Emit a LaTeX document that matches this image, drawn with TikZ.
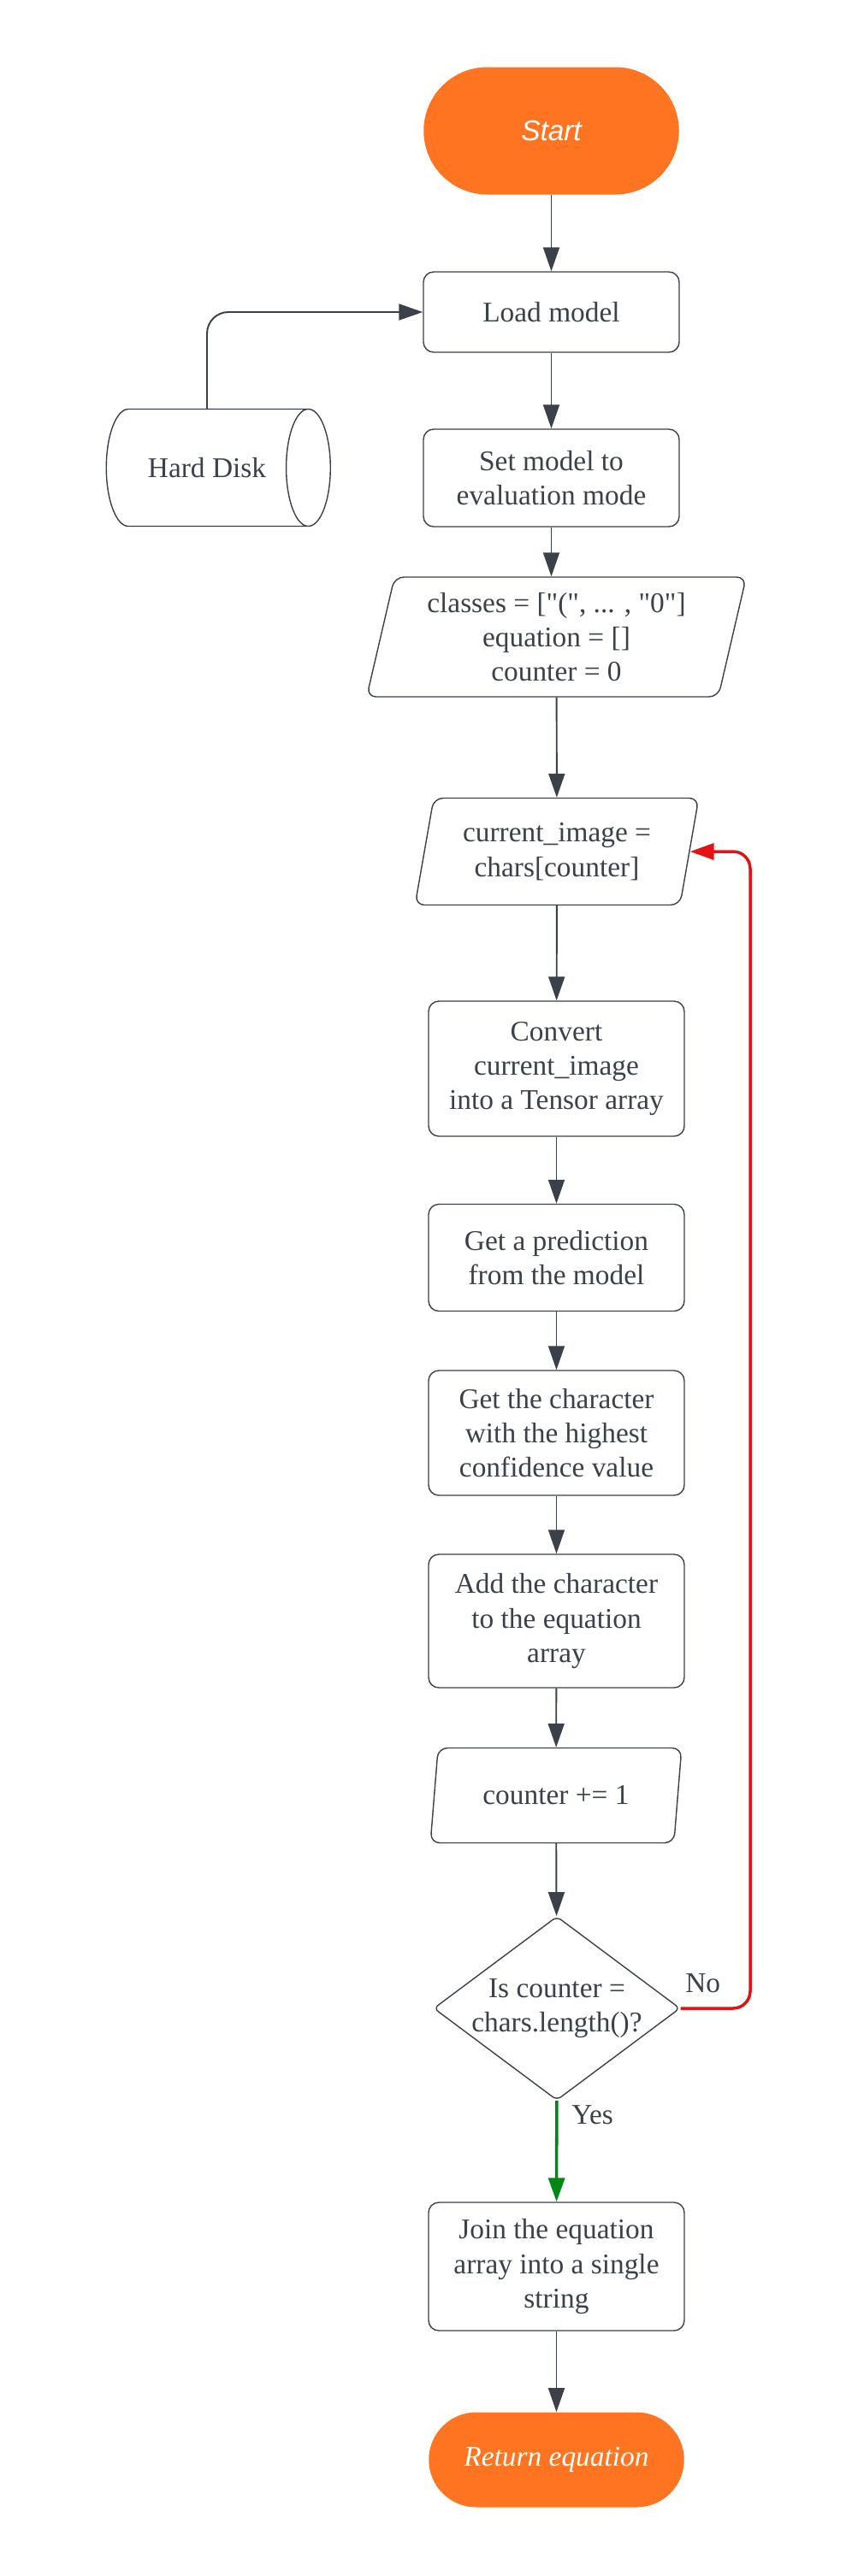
\documentclass[tikz,border=0pt]{standalone}
\usepackage{xcolor}
\usepackage{fontspec}
\setmainfont{Liberation Serif}
\newfontfamily\sansit{Liberation Sans}
\usepackage{tikz}
\usetikzlibrary{shapes.geometric,positioning}
\usetikzlibrary{arrows.meta}
\definecolor{ligne}{RGB}{58,65,74}
\definecolor{orangelucid}{RGB}{255,116,32}
\definecolor{rouge}{RGB}{228,18,18}
\definecolor{vert}{RGB}{0,135,20}
\newcommand{\gq}{\textquotedbl}
\tikzset{
	texte/.style={text=ligne, align=center, font=\fontsize{19}{23}\selectfont},
	boite/.style={texte, draw=ligne, line width=0.8pt, rounded corners=0.24cm, minimum width=5.98cm, inner sep=0pt},
	terminal/.style={fill=orangelucid, text=white, align=center, font=\fontsize{19}{23}\selectfont, minimum width=5.97cm, inner sep=0pt},
	donnee/.style={texte, draw=ligne, line width=0.8pt, trapezium, trapezium left angle=76, trapezium right angle=104, trapezium stretches=true, rounded corners=0.22cm, inner sep=0pt},
	disque/.style={texte, draw=ligne, line width=0.8pt, cylinder, aspect=2.2, minimum width=2.74cm, minimum height=5.24cm, inner sep=0pt},
	choix/.style={texte, draw=ligne, line width=0.8pt, diamond, aspect=1.34, rounded corners=0.12cm, inner sep=-1.5mm, minimum width=5.76cm, minimum height=4.3cm},
	fleche/.style={draw=ligne, line width=1.1pt, -{Triangle[length=0.56cm,width=0.38cm]}},
	etiquette/.style={texte, inner sep=0pt}
}

\begin{document}
\begin{tikzpicture}
	% Cadre de l'image
	\useasboundingbox (0,0) rectangle (19.76,-60.26);
	
	%Noeuds du haut
	\node[terminal, minimum height=2.98cm, rounded corners=1.49cm] (start) at (12.89,-3.06) {\sansit\itshape Start};
	\node[boite, minimum height=1.88cm] (load) at (12.89,-7.3) {Load model};
	\node[disque] (disk) at (4.84,-10.94) {Hard Disk};
	\node[boite, minimum height=2.28cm] (evalmode) at (12.89,-11.18) {Set model to\\evaluation mode};
	\node[donnee, minimum width=8.9cm, minimum height=2.8cm] (init) at (13.01,-14.9) {classes = [\gq(\gq, ... , \gq0\gq]\\equation = []\\counter = 0};
	
	%Boucle
	\node[donnee, minimum width=6.64cm, minimum height=2.5cm] (current) at (13.02,-19.92) {current\_image =\\chars[counter]};
	\node[boite, minimum height=3.16cm] (convert) at (13.01,-25.0) {Convert\\current\_image\\into a Tensor array};
	\node[boite, minimum height=2.5cm] (predict) at (13.01,-29.42) {Get a prediction\\from the model};
	\node[boite, minimum height=2.92cm] (maxchar) at (13.01,-33.52) {Get the character\\with the highest\\confidence value};
	\node[boite, minimum height=3.12cm] (addchar) at (13.01,-37.92) {Add the character\\to the equation\\array};
	\node[donnee, minimum width=5.88cm, minimum height=2.22cm] (incr) at (13.0,-42.0) {counter += 1};
	\node[choix] (check) at (13.02,-46.98) {Is counter =\\chars.length()?};
	
	%Fin
	\node[boite, minimum height=3.0cm] (join) at (13.01,-53.02) {Join the equation\\array into a single\\string};
	\node[terminal, minimum height=2.22cm, rounded corners=1.11cm, font=\fontsize{19}{23}\selectfont\itshape] (stop) at (13.01,-57.54) {Return equation};
	
	%Etiquettes
	\node[etiquette, anchor=south west] (non) at (16.02,-46.62) {No};
	\node[etiquette, anchor=west] (oui) at (13.36,-49.48) {Yes};
	\coordinate (boucle) at (17.54,-19.92);
	
	%Fleches
	\draw[fleche] (start) -- (load);
	\draw[fleche, rounded corners=0.5cm] (disk.north) |- (load.west);
	\draw[fleche] (load) -- (evalmode);
	\draw[fleche] (evalmode.south) -- (evalmode.south |- init.north);
	\draw[fleche] (init) -- (current);
	\draw[fleche] (current) -- (convert);
	\draw[fleche] (convert) -- (predict);
	\draw[fleche] (predict) -- (maxchar);
	\draw[fleche] (maxchar) -- (addchar);
	\draw[fleche] (addchar) -- (incr);
	\draw[fleche] (incr) -- (check);
	\draw[fleche, draw=rouge, line width=2pt, rounded corners=0.4cm] (check.east) -| (boucle) -- (current.east);
	\draw[fleche, draw=vert, line width=2pt] (check) -- (join);
	\draw[fleche] (join) -- (stop);
	
\end{tikzpicture}
\end{document}
